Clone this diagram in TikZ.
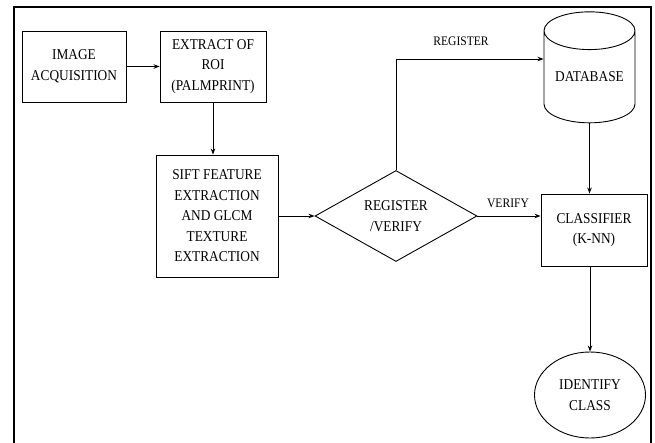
\documentclass[tikz,border=0pt]{standalone}
\usepackage{fontspec}
\setmainfont[FakeStretch=0.89]{Liberation Serif}
\usetikzlibrary{arrows.meta,shapes.geometric}
\begin{document}
\begin{tikzpicture}[x=1pt,y=1pt,
  every node/.style={font=\fontsize{15}{20.5}\selectfont, align=center, inner sep=0pt},
  box/.style={draw, line width=0.9pt, rectangle},
  arr/.style={-{Stealth[length=6pt,width=4.5pt]}, line width=0.9pt},
  lbl/.style={font=\fontsize{13}{15}\selectfont}]
\useasboundingbox (0,0) rectangle (655,442);
\fill[white] (0,0) rectangle (655,442);
\draw[line width=2.6pt] (14,-5) -- (14,435) -- (651,435) -- (651,-5);

\node[box, minimum width=104pt, minimum height=71pt] (acq) at (74,375.5) {IMAGE\\ACQUISITION};
\node[box, minimum width=106pt, minimum height=71pt] (roi) at (213,375.5) {EXTRACT OF\\ROI\\(PALMPRINT)};
\node[box, minimum width=122pt, minimum height=122pt] (sift) at (217,226) {SIFT FEATURE\\EXTRACTION\\AND GLCM\\TEXTURE\\EXTRACTION};
\node[draw, line width=0.9pt, diamond, aspect=1.78, minimum width=162pt, minimum height=91pt] (dia) at (396,226) {REGISTER\\/VERIFY};
\node[draw, line width=0.9pt, cylinder, shape border rotate=90, aspect=0.55, minimum width=91pt, minimum height=111pt] (db) at (589.5,365) {DATABASE};
\node[box, minimum width=106pt, minimum height=72pt] (cls) at (594,212) {CLASSIFIER\\(K-NN)};
\node[draw, line width=0.9pt, ellipse, minimum width=111pt, minimum height=86pt] (idc) at (590,47) {IDENTIFY\\CLASS};

\node[lbl] (lreg) at (461,401) {REGISTER};
\node[lbl] (lver) at (508,239) {VERIFY};
\coordinate (regc) at (0,383);

\draw[arr] (acq.east) -- (roi.west);
\draw[arr] (roi.south) -- (roi.south |- sift.north);
\draw[arr] (sift.east) -- (dia.west);
\draw[arr] (dia.north) |- (db.west |- regc);
\draw[arr] (dia.east) -- (dia.east -| cls.west);
\draw[arr] (db.south) -- (db.south |- cls.north);
\draw[arr] (idc.north |- cls.south) -- (idc.north);
\end{tikzpicture}
\end{document}
